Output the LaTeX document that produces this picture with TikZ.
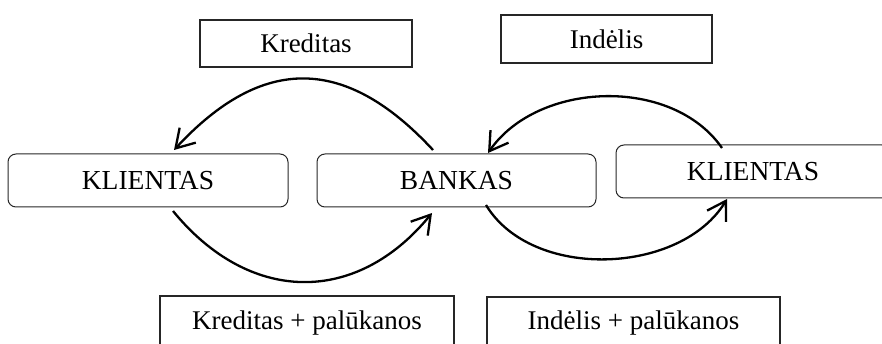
\documentclass[tikz,border=0pt]{standalone}
\usepackage{fontspec}
\setmainfont{Liberation Serif}
\usetikzlibrary{arrows.meta}
\begin{document}
\begin{tikzpicture}[x=1pt,y=-1pt,
  party/.style={draw=black!85, rounded corners=8pt, line width=1pt, inner sep=0pt,
    minimum height=53pt, font=\fontsize{27.5}{31}\selectfont},
  label/.style={draw=black!85, line width=1.1pt, inner sep=0pt,
    font=\fontsize{27}{31}\selectfont},
  flow/.style={line width=2.3pt, -{Straight Barb[length=18pt,width=22pt]}}
]
\useasboundingbox (0,0) rectangle (882,344);
\clip (0,0) rectangle (882,344);
% parties
\node[party, minimum width=280pt] (k1) at (148,180.5) {KLIENTAS};
\node[party, minimum width=279pt] (bank) at (456.5,180.5) {BANKAS};
\node[party, minimum width=274pt] (k2) at (753,171.5) {KLIENTAS};
% labels
\node[label, minimum width=212pt, minimum height=47pt] (kred) at (306,43.5) {Kreditas};
\node[label, minimum width=211pt, minimum height=48pt] (ind) at (606.5,39) {Indėlis};
\node[label, minimum width=294pt, minimum height=54pt] (kp) at (307,323) {Kreditas + palūkanos};
\node[label, minimum width=293pt, minimum height=53pt] (ip) at (633.5,323.5) {Indėlis + palūkanos};
% arc end points
\coordinate (a1s) at (433,150);
\coordinate (a1e) at (174,150);
\coordinate (a2s) at (722,148);
\coordinate (a2e) at (488,153);
\coordinate (a3s) at (173,211);
\coordinate (a3e) at (432,213);
\coordinate (a4s) at (486,205);
\coordinate (a4e) at (727,199);
% flows
\draw[flow] (a1s) .. controls +(-88,-95) and +(88,-95) .. (a1e);
\draw[flow] (a2s) .. controls +(-50,-72) and +(50,-72) .. (a2e);
\draw[flow] (a3s) .. controls +(76,93) and +(-76,93) .. (a3e);
\draw[flow] (a4s) .. controls +(46,76) and +(-46,76) .. (a4e);
\end{tikzpicture}
\end{document}
